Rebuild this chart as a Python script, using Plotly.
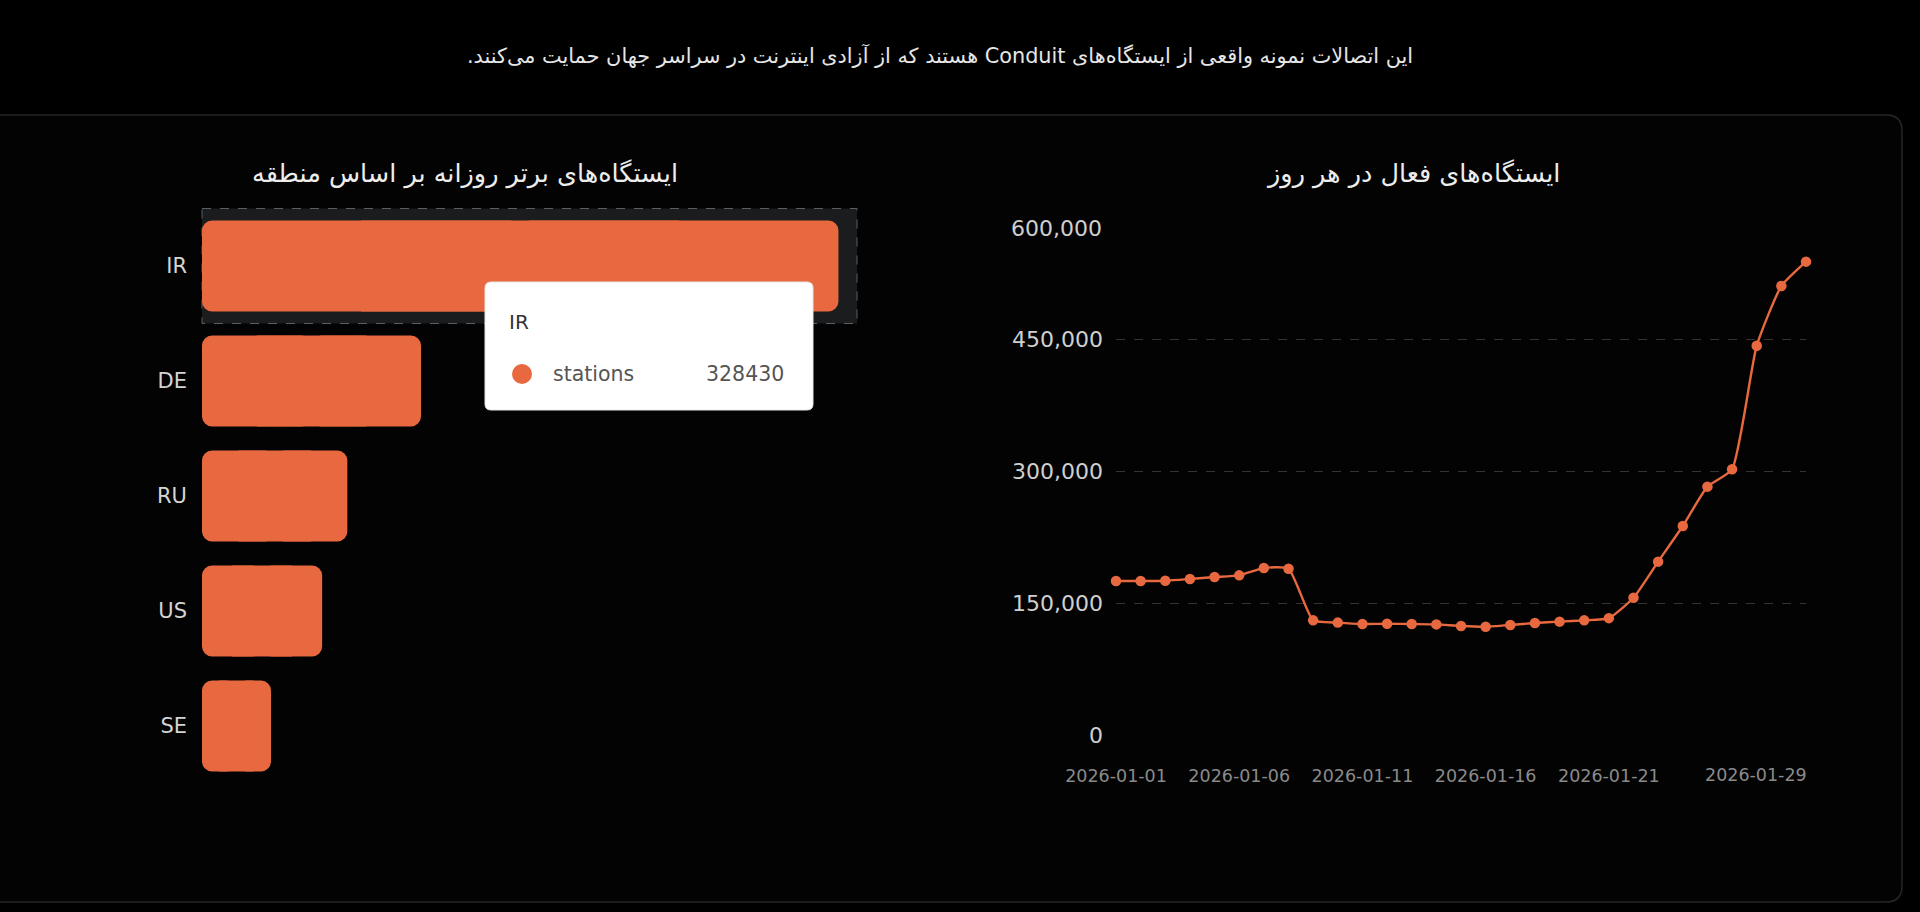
import plotly.graph_objects as go

# ---------------- data ----------------
regions = ["IR", "DE", "RU", "US", "SE"]
stations = [328430, 113000, 75000, 62000, 35600]

dates = ["2026-01-01", "2026-01-02", "2026-01-03", "2026-01-04", "2026-01-05",
         "2026-01-06", "2026-01-07", "2026-01-08", "2026-01-09", "2026-01-10",
         "2026-01-11", "2026-01-12", "2026-01-13", "2026-01-14", "2026-01-15",
         "2026-01-16", "2026-01-17", "2026-01-18", "2026-01-19", "2026-01-20",
         "2026-01-21", "2026-01-22", "2026-01-23", "2026-01-24", "2026-01-25",
         "2026-01-26", "2026-01-27", "2026-01-28", "2026-01-29"]
active = [175000, 175000, 175300, 177300, 179500, 181400, 189800, 189000,
          130300, 127700, 126100, 126500, 126100, 125700, 123900, 123100,
          125000, 127300, 128800, 130300, 132800, 156000, 197000, 237500,
          282200, 301900, 442400, 510200, 537900]

x_tick_dates = ["2026-01-01", "2026-01-06", "2026-01-11", "2026-01-16", "2026-01-21"]
last_date_label = "2026-01-29"
y_ticks = [0, 150000, 300000, 450000, 600000]
y_tick_text = ["0", "150,000", "300,000", "450,000", ""]

main_title = "\u202bاین اتصالات نمونه واقعی از ایستگاه\u200cهای Conduit هستند که از آزادی اینترنت در سراسر جهان حمایت می\u200cکنند.\u202c"
left_title = "\u202bایستگاه\u200cهای برتر روزانه بر اساس منطقه\u202c"
right_title = "\u202bایستگاه\u200cهای فعال در هر روز\u202c"

tooltip_region = "IR"
tooltip_series = "stations"

# ---------------- style ----------------
W, H = 1920, 912
ORANGE = "#E8693F"
FONT = "DejaVu Sans"


def px(x):
    return x / W


def py(y):
    return 1 - y / H


def rrect(x0, y0, x1, y1, r):
    pts = [
        f"M {px(x0 + r)} {py(y0)}",
        f"L {px(x1 - r)} {py(y0)}",
        f"Q {px(x1)} {py(y0)} {px(x1)} {py(y0 + r)}",
        f"L {px(x1)} {py(y1 - r)}",
        f"Q {px(x1)} {py(y1)} {px(x1 - r)} {py(y1)}",
        f"L {px(x0 + r)} {py(y1)}",
        f"Q {px(x0)} {py(y1)} {px(x0)} {py(y1 - r)}",
        f"L {px(x0)} {py(y0 + r)}",
        f"Q {px(x0)} {py(y0)} {px(x0 + r)} {py(y0)}",
        "Z",
    ]
    return " ".join(pts)


fig = go.Figure()

# bars: left half rounded at 0, right half rounded at value, square middle covers the seam
bar_common = dict(y=regions, orientation="h", xaxis="x", yaxis="y",
                  hoverinfo="skip", showlegend=False)
fig.add_trace(go.Bar(x=[-v * 0.5 for v in stations], base=[v * 0.5 for v in stations],
                     marker=dict(color=ORANGE, cornerradius=10, line=dict(width=0)),
                     **bar_common))
fig.add_trace(go.Bar(x=[v * 0.5 for v in stations], base=[v * 0.5 for v in stations],
                     marker=dict(color=ORANGE, cornerradius=10, line=dict(width=0)),
                     **bar_common))
fig.add_trace(go.Bar(x=[v * 0.5 for v in stations], base=[v * 0.25 for v in stations],
                     marker=dict(color=ORANGE, cornerradius=0, line=dict(width=0)),
                     **bar_common))

fig.add_trace(go.Scatter(
    x=dates, y=active, mode="lines+markers",
    line=dict(color=ORANGE, width=2.4, shape="spline", smoothing=0.5),
    marker=dict(color=ORANGE, size=10.5),
    xaxis="x2", yaxis="y2", cliponaxis=False, showlegend=False,
))

shapes = [
    # outer panel
    dict(type="path", xref="paper", yref="paper", path=rrect(-60, 115, 1902, 902, 16),
         line=dict(color="#262626", width=1.5), fillcolor="#030303", layer="below"),
    # hover highlight behind IR bar
    dict(type="rect", xref="x domain", yref="y", x0=0, x1=1, y0=-0.5, y1=0.5,
         fillcolor="#1b1c1d", line=dict(color="#5a5f63", width=1, dash="dash"), layer="below"),
    # tooltip box
    dict(type="path", xref="paper", yref="paper", path=rrect(485, 282, 813, 410, 6),
         fillcolor="#ffffff", line=dict(color="#e6e6e6", width=1), layer="above"),
    # tooltip dot
    dict(type="circle", xref="paper", yref="paper",
         x0=px(512), x1=px(532), y0=py(364), y1=py(384),
         fillcolor=ORANGE, line=dict(width=0), layer="above"),
]


def ann(text, x, y, size, color, xanchor="center", **kw):
    d = dict(text=text, x=x, y=y, xref="paper", yref="paper", showarrow=False,
             xanchor=xanchor, yanchor="middle",
             font=dict(family=FONT, size=size, color=color))
    d.update(kw)
    return d


annotations = [
    ann(main_title, px(940), py(55), 20.8, "#e6e6e6"),
    ann(left_title, px(465), py(174), 25.5, "#ededed"),
    ann(right_title, px(1413), py(174), 25.5, "#ededed"),
    # y-axis top label (drawn slightly below its gridline as in the source)
    dict(text=f"{y_ticks[-1]:,}", x=0, xref="x2 domain", y=y_ticks[-1], yref="y2",
         xanchor="right", yanchor="middle", xshift=-12, yshift=-21, showarrow=False,
         font=dict(family=FONT, size=22, color="#cfcfcf")),
    # last x label, right aligned to the final point
    dict(text=last_date_label, x=last_date_label, xref="x2", y=py(775), yref="paper",
         xanchor="right", yanchor="middle", xshift=3, showarrow=False,
         font=dict(family=FONT, size=17.5, color="#8a8a8a")),
    # tooltip texts
    ann(tooltip_region, px(507), py(322), 20, "#333333", xanchor="left"),
    ann(tooltip_series, px(551), py(374), 20.5, "#555555", xanchor="left"),
    ann(str(stations[0]), px(786), py(374), 20.5, "#555555", xanchor="right"),
]

fig.update_layout(
    width=W, height=H,
    paper_bgcolor="#000000", plot_bgcolor="rgba(0,0,0,0)",
    margin=dict(l=0, r=0, t=0, b=0, autoexpand=False),
    barmode="overlay", bargap=0.21,
    hovermode=False,
    shapes=shapes, annotations=annotations,
    xaxis=dict(domain=[px(202), px(857)], range=[0, 338000], visible=False,
               fixedrange=True, anchor="y"),
    yaxis=dict(domain=[py(783.5), py(208)], type="category", autorange="reversed",
               anchor="x", automargin=False,
               showgrid=False, zeroline=False, showline=False, ticks="",
               ticklabelstandoff=14,
               tickfont=dict(family=FONT, size=21, color="#d4d4d4")),
    xaxis2=dict(domain=[px(1116), px(1806)], type="category", range=[0, len(dates) - 1],
                anchor="y2", automargin=False,
                showgrid=False, zeroline=False, showline=False, ticks="",
                tickvals=x_tick_dates, ticktext=x_tick_dates,
                ticklabelstandoff=28,
                tickfont=dict(family=FONT, size=17.5, color="#8a8a8a")),
    yaxis2=dict(domain=[py(735), py(207)], range=[0, 600000], anchor="x2",
                automargin=False,
                tickvals=y_ticks, ticktext=y_tick_text,
                showgrid=True, gridcolor="#333333", griddash="dash", gridwidth=1,
                zeroline=False, showline=False, ticks="",
                ticklabelstandoff=12,
                tickfont=dict(family=FONT, size=22, color="#cfcfcf")),
)

fig.write_html(
    "out.html",
    config={"displayModeBar": False, "staticPlot": True},
    post_script="document.body.style.margin='0';document.body.style.background='#000';"
                "document.documentElement.style.background='#000';"
                "document.body.style.overflow='hidden';",
)
